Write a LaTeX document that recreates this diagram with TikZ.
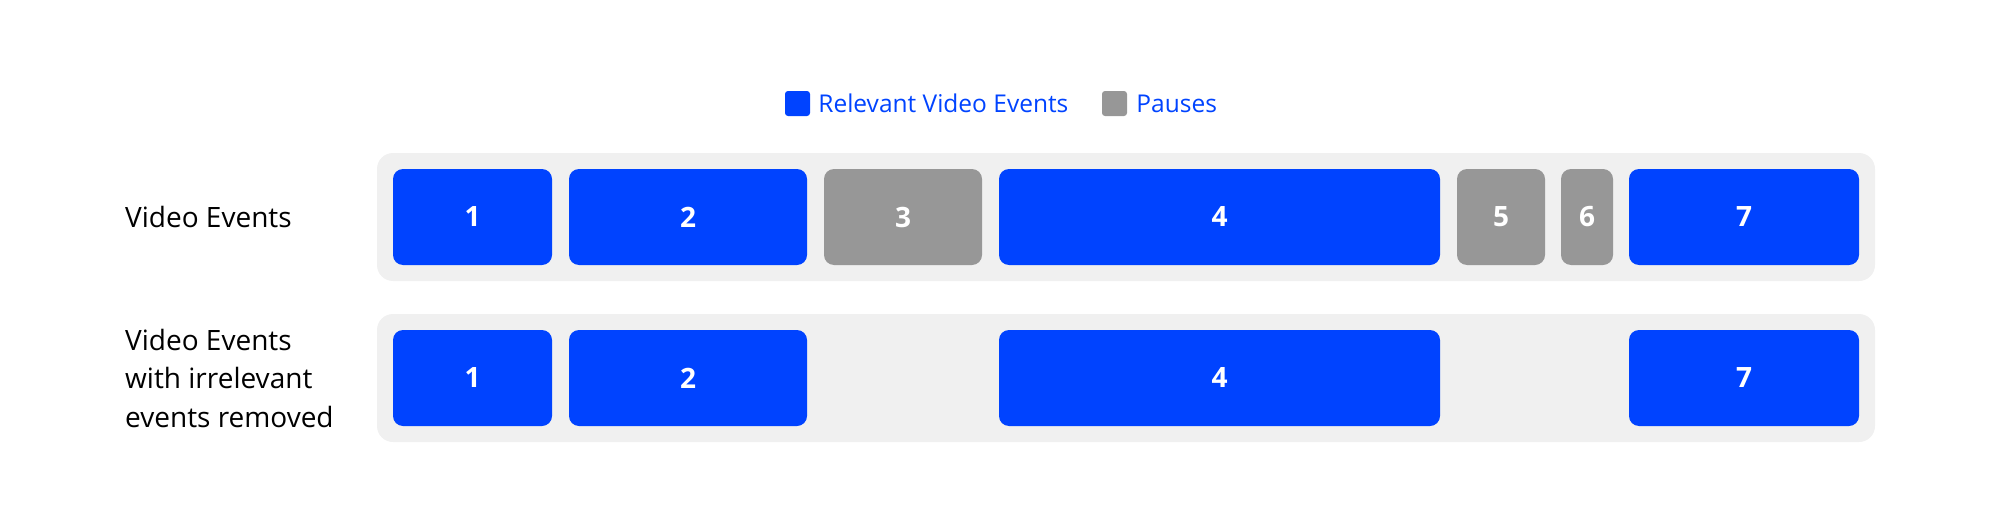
\documentclass[tikz,border=0pt]{standalone}
\usepackage{fontspec}
\setmainfont{Open Sans}
\usepackage{tikz}
\usetikzlibrary{positioning}

\definecolor{evblue}{RGB}{0,67,255}
\definecolor{evgray}{RGB}{151,151,151}
\definecolor{trackbg}{RGB}{240,240,240}

\begin{document}
\begin{tikzpicture}[x=1pt, y=-1pt,
    track/.style = {fill=trackbg, rounded corners=16pt, minimum width=1498pt, minimum height=128pt, inner sep=0pt},
    event/.style = {fill=evblue, rounded corners=10pt, minimum height=96pt, inner sep=0pt, text=white, font=\fontsize{28}{34}\selectfont\bfseries},
    pause/.style = {event, fill=evgray},
    key/.style = {rounded corners=3pt, minimum size=25pt, inner sep=0pt},
    keytext/.style = {anchor=west, inner sep=0pt, text=evblue, font=\fontsize{24.5}{28}\selectfont},
    rowlabel/.style = {anchor=west, inner sep=0pt, align=left, font=\fontsize{28}{38.5}\selectfont}]
          \useasboundingbox (0,0) rectangle (2000,527);
          % legend
          \node[key, fill=evblue](kblue) at (797.5,103.5){};
          \node[keytext](tblue)[right=8pt of kblue]{Relevant Video Events};
          \node[key, fill=evgray](kgray) at (1114.5,103.5){};
          \node[keytext](tgray)[right=9pt of kgray]{Pauses};
          % row labels
          \node[rowlabel](lab1) at (125,217){Video Events};
          \node[rowlabel](lab2) at (125,378){Video Events\\with irrelevant\\events removed};
          % tracks
          \node[track](track1) at (1126,217){};
          \node[track](track2) at (1126,378){};
          % all events
          \node[event, minimum width=159pt](a1) at (472.5,217){1};
          \node[event, minimum width=238pt](a2) at (688,217){2};
          \node[pause, minimum width=158pt](a3) at (903,217){3};
          \node[event, minimum width=441pt](a4) at (1219.5,217){4};
          \node[pause, minimum width=88pt](a5) at (1501,217){5};
          \node[pause, minimum width=52pt](a6) at (1587,217){6};
          \node[event, minimum width=230pt](a7) at (1744,217){7};
          % pauses removed
          \node[event, minimum width=159pt](b1) at (472.5,378){1};
          \node[event, minimum width=238pt](b2) at (688,378){2};
          \node[event, minimum width=441pt](b4) at (1219.5,378){4};
          \node[event, minimum width=230pt](b7) at (1744,378){7};
        \end{tikzpicture}
\end{document}
